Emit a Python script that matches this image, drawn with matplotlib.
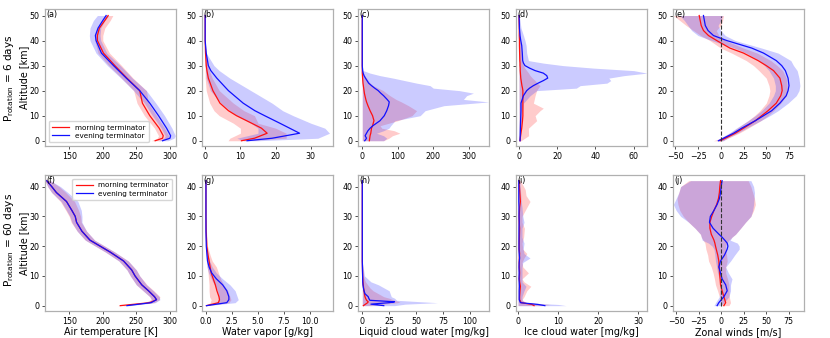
import matplotlib
matplotlib.use("Agg")
import matplotlib.pyplot as plt
import numpy as np

# ---- top row: P_rotation = 6 days ----
za = [0, 1, 2, 5, 10, 15, 20, 25, 30, 35, 40, 42, 45, 48, 50]
a_red = [278, 289, 290, 284, 270, 259, 255, 236, 218, 201, 192, 192, 195, 203, 208]
a_red_lo = [272, 281, 283, 277, 262, 251, 246, 228, 209, 193, 188, 188, 191, 199, 204]
a_red_hi = [285, 297, 298, 292, 280, 268, 265, 245, 228, 210, 200, 200, 203, 211, 215]
a_blue = [289, 300, 301, 295, 283, 270, 255, 235, 216, 198, 190, 189, 193, 200, 205]
a_blue_lo = [283, 291, 293, 287, 274, 262, 246, 227, 207, 190, 181, 180, 181, 186, 192]
a_blue_hi = [297, 306, 308, 303, 292, 279, 265, 244, 226, 206, 197, 196, 197, 203, 209]

zb = [0, 1, 3, 5, 7, 10, 12, 15, 20, 25, 28, 30, 35, 40, 50]
b_red = [10.3, 14, 17.6, 16, 13.2, 8.9, 6.6, 4.2, 2.2, 0.9, 0.5, 0.3, 0.1, 0, 0]
b_red_lo = [6.5, 7, 10, 10, 8, 4, 2.5, 1.3, 0.3, 0, 0, 0, 0, 0, 0]
b_red_hi = [11, 23, 23, 20, 15, 14, 11, 8, 4, 2, 1.2, 0.8, 0.2, 0, 0]
b_blue = [11.9, 19, 26.8, 24, 21.2, 16.9, 14.1, 10.8, 6.6, 3.3, 1.6, 0.9, 0.3, 0, 0]
b_blue_lo = [11, 9, 15, 15, 13, 9, 7, 4.5, 1.5, 0.3, 0.1, 0, 0, 0, 0]
b_blue_hi = [15, 32, 35.3, 34, 30, 25, 22, 19, 13, 7, 4, 2.5, 0.3, 0, 0]

zc = [0, 1, 2, 3, 4, 5, 6, 8, 10, 12, 14, 15.5, 16.5, 18, 19, 20, 21, 22, 23, 25, 26, 27, 28, 30, 40, 50]
c_red = [20, 21, 22, 24, 25, 26, 29, 33, 29, 22, 16, 12, 10, 7.5, 6, 5, 4, 3, 2, 1, 0.5, 0, 0, 0, 0, 0]
c_red_hi = [60, 75, 85, 106, 90, 55, 50, 100, 140, 153, 130, 110, 95, 78, 68, 59, 45, 31, 22, 12, 7, 3, 1, 0, 0, 0]
c_blue = [7, 12, 8, 12, 16, 22, 30, 50, 62, 69, 74, 76, 70, 60, 52, 45, 35, 26, 18, 9, 5, 2.5, 1, 0, 0, 0]
c_blue_hi = [60, 69, 60, 40, 60, 75, 80, 92, 163, 177, 230, 356, 285, 294, 313, 274, 200, 191, 153, 87, 50, 22, 3, 0, 0, 0]

zd = [0, 2, 5, 8, 10, 12, 13, 15, 18, 20, 21, 22, 23, 24, 25, 26, 27, 28, 29, 30, 31, 32, 35, 38, 40, 42, 45, 48, 50]
d_red = [0.5, 0.8, 1.4, 1.8, 2, 2, 2, 2, 2, 2, 1.8, 1.5, 1.3, 1.1, 0.9, 0.8, 0.7, 0.6, 0.6, 0.5, 0.5, 0.4, 0.3, 0.2, 0.2, 0.1, 0.1, 0, 0]
d_red_hi = [1, 5, 4.9, 9.2, 8.4, 11, 12.7, 7.5, 8.4, 9.2, 10, 11, 9.5, 8.4, 7, 5.8, 5, 4, 3, 2.3, 2, 1.8, 1.4, 1, 0.5, 0.4, 0.2, 0.1, 0]
d_blue = [0.5, 0.6, 0.7, 0.8, 0.9, 1, 1, 1, 2.3, 4, 5.5, 7.5, 10, 12.7, 15, 14.5, 12.7, 8.4, 5.5, 3.1, 2.3, 1.9, 1.7, 1.4, 0.9, 0.5, 0.2, 0.1, 0]
d_blue_hi = [0.5, 0.8, 1, 1.2, 1.4, 1.8, 2, 2.3, 5.8, 9.2, 30, 32, 46, 48, 47, 55, 67, 60, 39, 23, 12.7, 4.9, 4, 3.7, 3.1, 2.3, 1, 0.5, 0]

ze = [0, 1, 3, 5, 8, 10, 12, 15, 18, 20, 22, 25, 28, 30, 32, 35, 37, 40, 42, 44, 46, 48, 50]
e_red = [-0.7, 5, 16, 25, 38, 45, 52, 61, 66, 67.5, 67, 65, 58, 50, 41, 25, 10, -4.4, -13.5, -19, -21.5, -22.6, -23.7]
e_red_lo = [-8, 0, 10, 18, 30, 37, 43, 50, 53, 54, 53, 50, 42, 36, 28, 12, 0, -12, -22, -30, -38, -45, -52]
e_red_hi = [2, 8, 20, 30, 44, 52, 58, 66, 72, 73, 73, 72, 68, 62, 55, 40, 25, 5, -2, -5, 0, 2, 3]
e_blue = [-2.5, 3, 14, 23, 38, 47, 56, 65, 72, 74, 75, 74, 71, 67, 61, 47, 34, 6.6, -8, -14, -17, -18, -19]
e_blue_lo = [-5, -1, 9, 17, 30, 38, 45, 53, 58, 60, 60, 58, 53, 48, 42, 28, 15, -10, -25, -32, -36, -40, -45]
e_blue_hi = [3, 7, 18, 28, 44, 54, 63, 74, 83, 86, 87, 86, 84, 80, 77, 63, 45, 16, 5, 0, -3, 0, 2]

# ---- bottom row: P_rotation = 60 days ----
zf = [0, 1, 2, 3, 5, 7, 10, 12, 15, 18, 20, 22, 25, 28, 30, 32, 35, 38, 40, 42]
f_red = [226, 270, 280, 277, 268, 258, 248, 243, 231, 211, 196, 181, 169, 161, 159, 154, 146, 131, 124, 116.5]
f_red_lo = [222, 262, 272, 270, 260, 250, 241, 236, 224, 204, 189, 174, 162, 153, 150, 145, 137, 124, 118, 114]
f_red_hi = [232, 276, 284, 285, 276, 266, 255, 250, 238, 218, 203, 188, 176, 168, 167, 164, 158, 145, 135, 122]
f_blue = [236, 272, 280, 277, 268, 258, 248, 243, 231, 211, 196, 181, 169, 161, 159, 154, 146, 131, 124, 116.5]
f_blue_lo = [230, 264, 273, 270, 260, 250, 241, 236, 224, 204, 189, 174, 162, 154, 151, 146, 138, 124, 118, 114]
f_blue_hi = [240, 278, 285, 284, 275, 265, 255, 250, 238, 218, 203, 188, 176, 169, 169, 168, 163, 148, 137, 122]

zg = [0, 1, 2, 3, 5, 7, 9, 11, 13, 15, 17, 20, 25, 30, 42]
g_red = [0.05, 1.2, 1.3, 1.25, 1.05, 0.9, 0.7, 0.5, 0.4, 0.3, 0.2, 0.08, 0.02, 0, 0]
g_red_lo = [0, 0.4, 0.5, 0.35, 0.3, 0.3, 0.25, 0.2, 0.12, 0.08, 0.05, 0, 0, 0, 0]
g_red_hi = [0.1, 2.2, 2.4, 2.3, 2.1, 1.7, 1.4, 1.2, 1.0, 0.6, 0.4, 0.15, 0.05, 0, 0]
g_blue = [0.05, 2.0, 2.2, 2.2, 2.0, 1.6, 1.0, 0.55, 0.3, 0.15, 0.1, 0.03, 0, 0, 0]
g_blue_lo = [0, 1.0, 1.2, 1.2, 1.1, 0.8, 0.5, 0.25, 0.1, 0.05, 0.02, 0, 0, 0, 0]
g_blue_hi = [0.1, 2.8, 3.1, 3.0, 2.8, 2.3, 1.6, 1.0, 0.6, 0.35, 0.2, 0.05, 0, 0, 0]

zh = [0, 0.5, 1, 1.3, 1.8, 2.5, 3, 4, 5, 6, 7, 8, 10, 15, 42]
h_red = [1, 3, 5, 5.5, 4, 3, 2.5, 2, 1.6, 1.2, 0.9, 0.6, 0.3, 0, 0]
h_red_hi = [8, 20, 33, 35, 30, 25, 20, 15, 10, 7, 5, 3, 1, 0, 0]
h_blue = [20, 8, 25, 30, 7, 6, 5.5, 2.5, 1.6, 1, 0.6, 0.4, 0.3, 0, 0]
h_blue_hi = [30, 40, 70, 55, 32, 30, 27, 26, 25, 20, 15, 8, 2, 0, 0]

zi = [0, 0.4, 1, 2, 3, 5, 6.5, 8, 9, 11, 13, 14.5, 16, 17.5, 19, 21, 23, 26, 28, 30, 33, 35, 37, 39, 41, 42]
i_red = [4, 3.5, 0.8, 0.4, 0.4, 0.5, 0.6, 0.4, 0.35, 0.4, 0.35, 0.3, 0.35, 0.4, 0.3, 0.3, 0.35, 0.4, 0.3, 0.3, 0.4, 0.6, 0.5, 0.4, 0.3, 0.3]
i_red_hi = [6, 8, 2, 1, 1.5, 2.2, 3.2, 1.5, 1, 2.6, 1.2, 1, 1.5, 2.2, 1.2, 1, 1.4, 1.6, 1, 1, 2.2, 3, 2, 1.8, 1, 0.8]
i_blue = [6.7, 5, 0.6, 0.3, 0.3, 0.3, 0.35, 0.3, 0.25, 0.3, 0.25, 0.3, 0.4, 0.3, 0.25, 0.25, 0.25, 0.25, 0.3, 0.25, 0.25, 0.2, 0.2, 0.2, 0.2, 0.2]
i_blue_hi = [12, 10, 1.5, 1, 1, 1.5, 2, 1, 1, 1, 1, 1.2, 3, 1.5, 1.3, 1.5, 1, 1, 1.5, 1.2, 1, 0.8, 0.7, 0.6, 0.5, 0.4]

zj = [0, 1, 3, 5, 7, 9, 11, 13, 15, 17, 19, 20, 21, 22, 23, 24, 26, 28, 30, 32, 34, 36, 38, 40, 42]
j_red = [3, 5, 3, 1, -0.7, -1.2, -1.8, -2.2, -2.6, -3.8, -5.5, -6.3, -7, -8, -9.5, -11, -12.5, -12.5, -10.5, -8, -5, -3, -2, -1.5, -0.7]
j_red_lo = [1, -0.7, -2, -4, -6.3, -7.5, -9, -11, -14, -15, -17, -17.5, -18, -20, -22, -23, -29, -36, -42, -46, -48, -49, -47, -45, -36]
j_red_hi = [8.6, 10.4, 9, 8.6, 8.6, 7, 5, 5, 6.7, 6, 5, 5, 6, 8.6, 12, 16, 21.6, 27, 33, 36, 38, 37, 35, 33, 30]
j_blue = [-4.5, -2.6, 3, 6.7, 5, 1, -0.7, -2.6, -0.7, 3.7, 6.7, 7.5, 6.7, 4, 1, -2.5, -9, -13, -12, -8, -4.5, -1.9, -0.7, 0, 1]
j_blue_lo = [-8, -6.3, -2, -1.5, -0.7, -2, -4, -5, -6.3, -7, -8, -10, -14, -21, -22, -23, -29, -36, -45, -50, -53, -50, -47, -45, -34]
j_blue_hi = [-0.7, 3, 8.6, 10.4, 10.4, 12, 8, 5, 10.4, 15, 20, 20, 18, 10, 12, 16, 21.6, 27, 33, 35, 36, 36.6, 37, 36, 33]

top_xlims = [(114, 309), (-0.9, 36.3), (-12, 357), (-1.6, 67), (-52.5, 91.5)]
bot_xlims = [(114, 309), (-0.38, 12.2), (-4, 118), (-0.5, 32.2), (-53.5, 92)]
top_xticks = [[150, 200, 250, 300], [0, 10, 20, 30], [0, 100, 200, 300], [0, 20, 40, 60], [-50, -25, 0, 25, 50, 75]]
bot_xticks = [[150, 200, 250, 300], [0.0, 2.5, 5.0, 7.5, 10.0], [0, 25, 50, 75, 100], [0, 10, 20, 30], [-50, -25, 0, 25, 50, 75]]
xlabels = ['Air temperature [K]', 'Water vapor [g/kg]', 'Liquid cloud water [mg/kg]',
           'Ice cloud water [mg/kg]', 'Zonal winds [m/s]']
top_tags = ['(a)', '(b)', '(c)', '(d)', '(e)']
bot_tags = ['(f)', '(g)', '(h)', '(i)', '(j)']

RED = '#ff1010'
BLUE = '#1010ff'
FILL_R = '#ff4040'
FILL_B = '#4040ff'

W, H = 830, 338
fig = plt.figure(figsize=(W / 100, H / 100), dpi=100)

lefts = [45, 202, 358, 516, 673]
aw = 131


def make_ax(left, top, bottom):
    return fig.add_axes([left / W, 1 - bottom / H, aw / W, (bottom - top) / H])


def panel(ax, z, red, red_lo, red_hi, blue, blue_lo, blue_hi):
    ax.fill_betweenx(z, red_lo, red_hi, color=FILL_R, alpha=0.27, lw=0)
    ax.fill_betweenx(z, blue_lo, blue_hi, color=FILL_B, alpha=0.27, lw=0)
    l1, = ax.plot(red, z, color=RED, lw=0.9, label='morning terminator')
    l2, = ax.plot(blue, z, color=BLUE, lw=0.9, label='evening terminator')
    return l1, l2


def style(ax, tag, xlim, xticks, ylim, yticks):
    ax.set_xlim(*xlim)
    ax.set_ylim(*ylim)
    ax.set_xticks(xticks)
    ax.set_yticks(yticks)
    ax.tick_params(labelsize=5.7, length=2.5, width=0.6, pad=1.5, color='#333333')
    for s in ax.spines.values():
        s.set_color('#b0b0b0')
        s.set_linewidth(0.9)
    ax.text(0.01, 0.995, tag, transform=ax.transAxes, ha='left', va='top', fontsize=5.8)


top_axes = [make_ax(l, 9, 146) for l in lefts]
bot_axes = [make_ax(l, 175, 311) for l in lefts]

zero_c = [0 for _ in zc]
zero_d = [0 for _ in zd]
zero_h = [0 for _ in zh]
zero_i = [0 for _ in zi]

# top row
ax = top_axes[0]
panel(ax, za, a_red, a_red_lo, a_red_hi, a_blue, a_blue_lo, a_blue_hi)
ax.legend(loc='lower left', fontsize=5.2, frameon=True, handlelength=2.3, borderpad=0.5,
          labelspacing=0.3, edgecolor='#cccccc', fancybox=True)
panel(top_axes[1], zb, b_red, b_red_lo, b_red_hi, b_blue, b_blue_lo, b_blue_hi)
panel(top_axes[2], zc, c_red, zero_c, c_red_hi, c_blue, zero_c, c_blue_hi)
panel(top_axes[3], zd, d_red, zero_d, d_red_hi, d_blue, zero_d, d_blue_hi)
ax = top_axes[4]
panel(ax, ze, e_red, e_red_lo, e_red_hi, e_blue, e_blue_lo, e_blue_hi)
ax.plot([0, 0], [ze[0], ze[-1]], color='#333333', ls='--', lw=0.8)

for k, ax in enumerate(top_axes):
    style(ax, top_tags[k], top_xlims[k], top_xticks[k], (-2.1, 52.6), [0, 10, 20, 30, 40, 50])

# bottom row
ax = bot_axes[0]
panel(ax, zf, f_red, f_red_lo, f_red_hi, f_blue, f_blue_lo, f_blue_hi)
ax.legend(loc='upper right', fontsize=5.2, frameon=True, handlelength=2.3, borderpad=0.5,
          labelspacing=0.3, edgecolor='#cccccc', fancybox=True)
panel(bot_axes[1], zg, g_red, g_red_lo, g_red_hi, g_blue, g_blue_lo, g_blue_hi)
panel(bot_axes[2], zh, h_red, zero_h, h_red_hi, h_blue, zero_h, h_blue_hi)
panel(bot_axes[3], zi, i_red, zero_i, i_red_hi, i_blue, zero_i, i_blue_hi)
ax = bot_axes[4]
panel(ax, zj, j_red, j_red_lo, j_red_hi, j_blue, j_blue_lo, j_blue_hi)
ax.plot([0, 0], [zj[0], zj[-1]], color='#333333', ls='--', lw=0.8)

for k, ax in enumerate(bot_axes):
    style(ax, bot_tags[k], bot_xlims[k], bot_xticks[k], (-1.8, 43.9), [0, 10, 20, 30, 40])
    ax.set_xlabel(xlabels[k], fontsize=6.9, labelpad=1)

top_axes[0].set_ylabel('Altitude [km]', fontsize=6.9, labelpad=0.5)
bot_axes[0].set_ylabel('Altitude [km]', fontsize=6.9, labelpad=0.5)

fig.text(0.011, 0.77, r'P$_{\rm rotation}$ = 6 days', rotation=90, ha='center', va='center', fontsize=7.6)
fig.text(0.011, 0.29, r'P$_{\rm rotation}$ = 60 days', rotation=90, ha='center', va='center', fontsize=7.6)

fig.savefig('out.png', dpi=100)
